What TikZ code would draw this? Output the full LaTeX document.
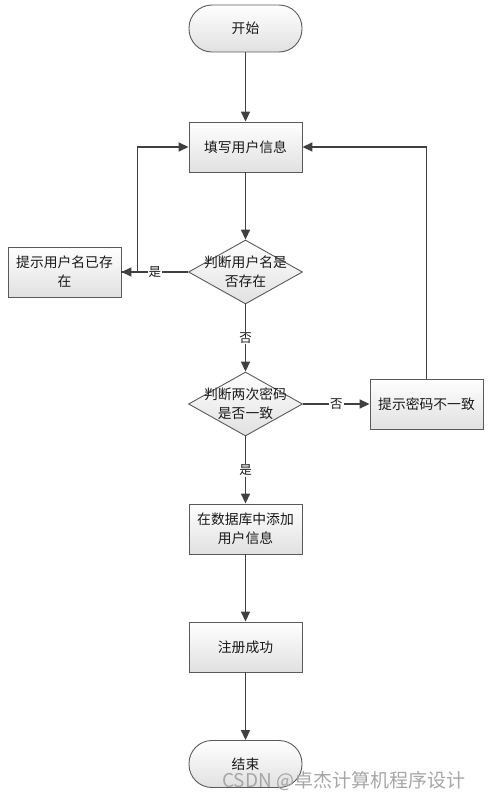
\documentclass[tikz,border=0pt]{standalone}
\usepackage{fontspec}
\setmainfont{Noto Sans CJK SC}
\usetikzlibrary{shapes.geometric,arrows.meta}
\definecolor{ln}{HTML}{404040}
\definecolor{bd}{HTML}{5A5A5A}
\tikzset{
  txt/.style={font=\fontsize{13.8}{19}\selectfont, align=center, text=black!90},
  procbox/.style={txt, draw=bd, line width=0.9pt, top color=white, bottom color=black!12,
     minimum width=113pt, minimum height=50pt, inner sep=0pt},
  termbox/.style={procbox, rounded corners=23pt, minimum height=47pt},
  dia/.style={draw=bd, line width=0.9pt, shape=diamond, top color=white, bottom color=black!12,
     minimum width=114pt, minimum height=64pt, inner sep=0pt, aspect=1.78},
  conn/.style={draw=ln, line width=1.6pt, -{Triangle[length=10pt,width=9pt]}},
  lab/.style={font=\fontsize{12.5}{14}\selectfont, fill=white, inner sep=1pt, text=black!90},
}
\begin{document}
\begin{tikzpicture}[x=1pt,y=-1pt]
\useasboundingbox (0,0) rectangle (490,800);
\node[termbox] (start) at (245.5,28.5) {开始};
\node[procbox] (fill) at (245.5,147) {填写用户信息};
\node[dia] (d1) at (245.5,272) {};
\node[txt] (d1t) at (245.5,272) {判断用户名是\\否存在};
\node[procbox] (p1) at (64.5,272) {提示用户名已存\\在};
\node[dia] (d2) at (245.5,404) {};
\node[txt] (d2t) at (245.5,404) {判断两次密码\\是否一致};
\node[procbox] (p2) at (426.5,404) {提示密码不一致};
\node[procbox] (add) at (245.5,529) {在数据库中添加\\用户信息};
\node[procbox] (ok) at (245.5,647) {注册成功};
\node[termbox] (end) at (245.5,764) {结束};

\draw[conn] (start) -- (fill);
\draw[conn] (fill) -- (d1.north);
\draw[conn] (d1.west) -- node[lab] (l1) {是} (p1.east);
\draw[conn] (p1.east) -- ++(16,0) |- (fill.west);
\draw[conn] (d1.south) -- node[lab] (l2) {否} (d2.north);
\draw[conn] (d2.east) -- node[lab] (l3) {否} (p2.west);
\draw[conn] (p2.north) |- (fill.east);
\draw[conn] (d2.south) -- node[lab] (l4) {是} (add.north);
\draw[conn] (add) -- (ok);
\draw[conn] (ok) -- (end);

\node[anchor=west, font=\fontsize{19}{20}\selectfont, text=black!35, inner sep=0pt] (wm) at (222,781) {CSDN @卓杰计算机程序设计};
\end{tikzpicture}
\end{document}
